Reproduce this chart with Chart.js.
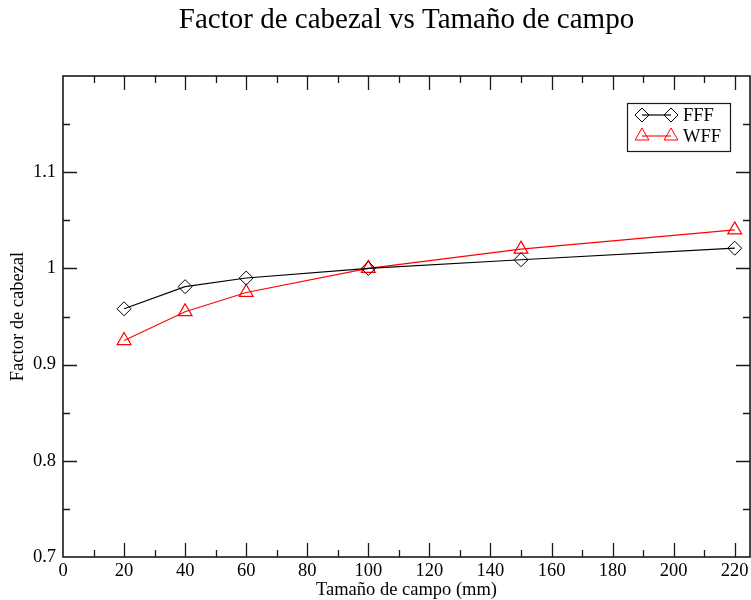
<!DOCTYPE html>
<html>
<head>
<meta charset="utf-8">
<script src="https://cdn.jsdelivr.net/npm/chart.js@4/dist/chart.umd.min.js"></script>
<style>
  html, body { margin: 0; padding: 0; background: #fff; }
  #wrap { width: 751px; height: 600px; }
</style>
</head>
<body>
<div id="wrap"><canvas id="factorChart" width="751" height="600"></canvas></div>
<script>
// field sizes (mm)
const fieldSizes = [20, 40, 60, 100, 150, 220];
// head factor values
const fffValues = [0.958, 0.981, 0.990, 1.000, 1.009, 1.021];
const wffValues = [0.925, 0.955, 0.975, 1.000, 1.020, 1.040];
const xTickLabels = ['0', '20', '40', '60', '80', '100', '120', '140', '160', '180', '200', '220'];
const yTickLabels = ['0.7', '0.8', '0.9', '1', '1.1'];
const chartTitle = 'Factor de cabezal vs Tamaño de campo';

const FONT = "'Liberation Serif', 'Times New Roman', serif";
const AXIS = '#1a1a1a';

const toPoints = (xs, ys) => xs.map((x, i) => ({ x: x, y: ys[i] }));

// title centred over the plot area, not the canvas
const plotTitle = {
  id: 'plotTitle',
  afterDraw(chart) {
    const { ctx, chartArea: a } = chart;
    ctx.save();
    ctx.fillStyle = '#000';
    ctx.font = '29px ' + FONT;
    ctx.textAlign = 'center';
    ctx.textBaseline = 'middle';
    ctx.fillText(chartTitle, (a.left + a.right) / 2, 20);
    ctx.restore();
  }
};

// inward ticks on all four sides plus the frame
const frameTicks = {
  id: 'frameTicks',
  afterDatasetsDraw(chart) {
    const { ctx, chartArea: a, scales } = chart;
    const xs = scales.x, ys = scales.y;
    ctx.save();
    ctx.strokeStyle = AXIS;
    ctx.lineWidth = 1.3;
    ctx.beginPath();
    for (let v = 10; v < 225; v += 10) {
      const px = Math.round(xs.getPixelForValue(v)) + 0.5;
      const len = v % 20 === 0 ? 14 : 7;
      ctx.moveTo(px, a.bottom); ctx.lineTo(px, a.bottom - len);
      ctx.moveTo(px, a.top); ctx.lineTo(px, a.top + len);
    }
    for (let i = 1; i < 10; i++) {
      const v = 0.7 + i * 0.05;
      const py = Math.round(ys.getPixelForValue(v)) + 0.5;
      const len = i % 2 === 0 ? 14 : 7;
      ctx.moveTo(a.left, py); ctx.lineTo(a.left + len, py);
      ctx.moveTo(a.right, py); ctx.lineTo(a.right - len, py);
    }
    ctx.stroke();
    ctx.lineWidth = 1.6;
    ctx.strokeRect(a.left, a.top, a.right - a.left, a.bottom - a.top);
    ctx.restore();
  }
};

// Grace-style legend: marker - line - marker, then label
const boxLegend = {
  id: 'boxLegend',
  afterDraw(chart) {
    const { ctx } = chart;
    const left = 627, top = 103, w = 103, h = 48;
    ctx.save();
    ctx.fillStyle = '#fff';
    ctx.fillRect(left, top, w, h);
    ctx.strokeStyle = AXIS;
    ctx.lineWidth = 1.2;
    ctx.strokeRect(left + 0.5, top + 0.5, w, h);
    chart.data.datasets.forEach((ds, i) => {
      const y = 115 + i * 21;
      const x1 = 642, x2 = 671;
      ctx.strokeStyle = ds.borderColor;
      ctx.lineWidth = ds.borderWidth;
      ctx.beginPath();
      ctx.moveTo(x1, y); ctx.lineTo(x2, y);
      ctx.stroke();
      const opts = {
        pointStyle: ds.pointStyle, radius: ds.pointRadius, rotation: 0,
        borderWidth: 1
      };
      ctx.fillStyle = 'rgba(0,0,0,0)';
      ctx.strokeStyle = ds.borderColor;
      ctx.lineWidth = 1;
      Chart.helpers.drawPoint(ctx, opts, x1, y);
      Chart.helpers.drawPoint(ctx, opts, x2, y);
      ctx.fillStyle = '#000';
      ctx.font = '18.5px ' + FONT;
      ctx.textBaseline = 'middle';
      ctx.fillText(ds.label, 683, y + 1);
    });
    ctx.restore();
  }
};

new Chart(document.getElementById('factorChart'), {
  type: 'line',
  data: {
    datasets: [
      {
        label: 'FFF',
        data: toPoints(fieldSizes, fffValues),
        borderColor: '#000',
        borderWidth: 1.2,
        pointStyle: 'rectRot',
        pointRadius: 7,
        pointBorderWidth: 1,
        pointBackgroundColor: 'rgba(0,0,0,0)',
        pointBorderColor: '#000',
        tension: 0
      },
      {
        label: 'WFF',
        data: toPoints(fieldSizes, wffValues),
        borderColor: '#ff0000',
        borderWidth: 1.1,
        pointStyle: 'triangle',
        pointRadius: 8,
        pointBorderWidth: 1.2,
        pointBackgroundColor: 'rgba(0,0,0,0)',
        pointBorderColor: '#ff0000',
        tension: 0
      }
    ]
  },
  options: {
    responsive: false,
    animation: false,
    layout: { autoPadding: false, padding: { left: 0, right: 1, top: 76, bottom: 0 } },
    plugins: {
      legend: { display: false },
      tooltip: { enabled: false },
      title: { display: false }
    },
    scales: {
      x: {
        type: 'linear',
        min: 0,
        max: 225,
        grid: { display: false, drawTicks: false },
        border: { display: false },
        ticks: {
          stepSize: 20,
          includeBounds: false,
          padding: 3,
          maxRotation: 0,
          autoSkip: false,
          color: '#000',
          font: { family: FONT, size: 18.5 },
          callback: (v) => {
            const s = String(Math.round(v));
            return xTickLabels.includes(s) && v % 20 === 0 ? s : '';
          }
        },
        title: {
          display: true,
          text: 'Tamaño de campo (mm)',
          color: '#000',
          font: { family: FONT, size: 18.5 },
          padding: { top: 0, bottom: -1 }
        },
        afterFit: (s) => { s.height = 43; s.paddingLeft = 0; s.paddingRight = 0; }
      },
      y: {
        type: 'linear',
        min: 0.7,
        max: 1.2,
        grid: { display: false, drawTicks: false },
        border: { display: false },
        ticks: {
          stepSize: 0.1,
          padding: 7,
          autoSkip: false,
          color: '#000',
          font: { family: FONT, size: 18.5 },
          callback: (v) => {
            const s = String(Math.round(v * 10) / 10);
            return yTickLabels.includes(s) ? s : '';
          }
        },
        title: {
          display: true,
          text: 'Factor de cabezal',
          color: '#000',
          font: { family: FONT, size: 18.5 },
          padding: { top: 7, bottom: 0 }
        },
        afterFit: (s) => { s.width = 63; s.paddingTop = 0; s.paddingBottom = 0; }
      }
    }
  },
  plugins: [frameTicks, boxLegend, plotTitle]
});
</script>
</body>
</html>
